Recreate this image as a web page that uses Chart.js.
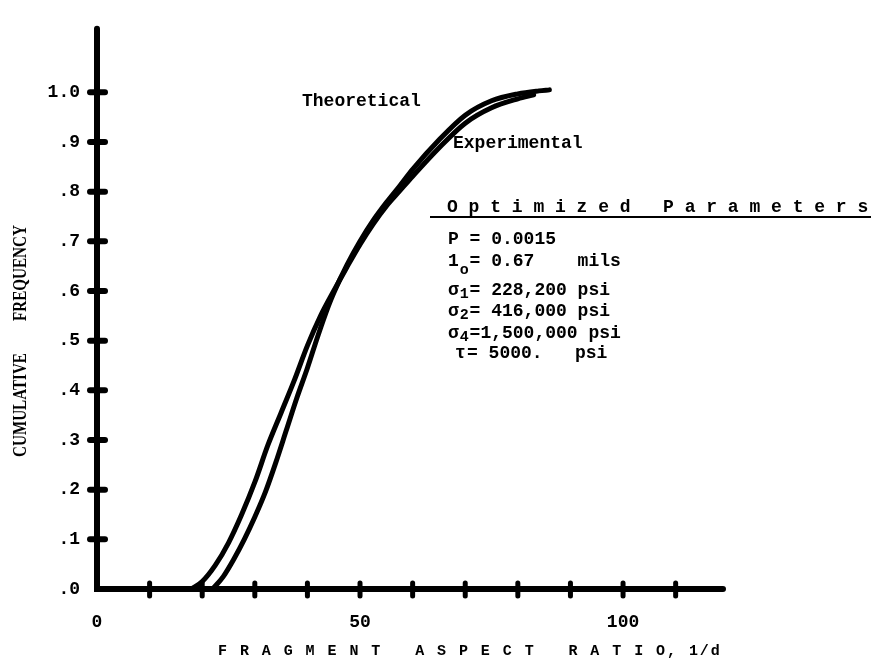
<!DOCTYPE html>
<html><head><meta charset="utf-8">
<script src="https://cdn.jsdelivr.net/npm/chart.js@4.4.0/dist/chart.umd.min.js"></script>
<style>html,body{margin:0;padding:0;background:#fff;} #wrap{width:871px;height:666px;position:relative;}</style>
</head><body><div id="wrap"><canvas id="c" width="871" height="666"></canvas></div>
<script>
// ---- data ----
const theoreticalX = [18, 20, 22.5, 25, 27.5, 30, 32.5, 35, 37.5, 40, 42.5, 45, 47.5, 50, 52.5, 55, 57.5, 60, 65, 70, 75, 80, 83];
const theoreticalY = [0, 0.015, 0.048, 0.093, 0.15, 0.215, 0.29, 0.355, 0.42, 0.49, 0.55, 0.60, 0.648, 0.694, 0.735, 0.771, 0.801, 0.831, 0.888, 0.938, 0.969, 0.987, 0.995];
const experimentalX = [22, 24, 26, 28, 30, 32, 34, 36, 38, 40, 42, 44, 45, 47.5, 50, 52.5, 55, 57.5, 60, 65, 70, 75, 80, 84, 86];
const experimentalY = [0, 0.025, 0.06, 0.10, 0.145, 0.195, 0.255, 0.32, 0.385, 0.445, 0.51, 0.57, 0.596, 0.652, 0.70, 0.742, 0.778, 0.811, 0.845, 0.904, 0.954, 0.983, 0.997, 1.003, 1.005];
const xTickValues = [10, 20, 30, 40, 50, 60, 70, 80, 90, 100, 110];
const xLabelValues = [0, 50, 100];
const yTickValues = [0, 0.1, 0.2, 0.3, 0.4, 0.5, 0.6, 0.7, 0.8, 0.9, 1.0];
const yTickLabels = ['.0', '.1', '.2', '.3', '.4', '.5', '.6', '.7', '.8', '.9', '1.0'];
const seriesNames = ['Theoretical', 'Experimental'];
const xTitle = 'F R A G M E N T   A S P E C T   R A T I O, 1/d';
const yTitleWords = ['CUMULATIVE', 'FREQUENCY'];
const paramHeading = 'O p t i m i z e d   P a r a m e t e r s';
const paramRows = [
  ['P', '', ' = 0.0015'],
  ['1', 'o', '= 0.67    mils'],
  ['σ', '1', '= 228,200 psi'],
  ['σ', '2', '= 416,000 psi'],
  ['σ', '4', '=1,500,000 psi'],
  ['τ', '', '= 5000.   psi']
];

const toPoints = (xs, ys) => xs.map((x, i) => ({x: x, y: ys[i]}));
const MONO = '"Liberation Mono", "DejaVu Sans Mono", monospace';

const decor = {
  id: 'decor',
  beforeDatasetsDraw(chart) {
    const ctx = chart.ctx, xs = chart.scales.x, ys = chart.scales.y;
    const x0 = xs.getPixelForValue(0), y0 = ys.getPixelForValue(0);
    ctx.save();
    ctx.strokeStyle = '#000';
    ctx.lineCap = 'round';
    ctx.lineWidth = 6;
    ctx.beginPath();
    ctx.moveTo(x0, ys.top + 1); ctx.lineTo(x0, y0);
    ctx.lineTo(xs.right, y0);
    ctx.stroke();
    ctx.lineWidth = 6;
    yTickValues.forEach(v => {
      if (v === 0) return;
      const py = ys.getPixelForValue(v);
      ctx.beginPath(); ctx.moveTo(x0 - 7, py); ctx.lineTo(x0 + 8, py); ctx.stroke();
    });
    ctx.lineWidth = 5;
    xTickValues.forEach(v => {
      const px = xs.getPixelForValue(v);
      ctx.beginPath(); ctx.moveTo(px, y0 - 6); ctx.lineTo(px, y0 + 7); ctx.stroke();
    });
    ctx.restore();
  },
  afterDraw(chart) {
    const ctx = chart.ctx;
    ctx.save();
    ctx.fillStyle = '#000';
    ctx.textBaseline = 'middle';
    ctx.textAlign = 'left';
    ctx.font = 'bold 18px ' + MONO;
    ctx.fillText(seriesNames[0], 302, 101);
    ctx.fillText(seriesNames[1], 453, 143);
    // parameters block
    ctx.fillText(paramHeading, 447, 207);
    ctx.fillRect(430, 216, 441, 2);
    const rowsY = [239, 261, 290, 311, 333, 353];
    const cw = 10.8, px0 = 448;
    paramRows.forEach((r, i) => {
      const y = rowsY[i];
      ctx.font = 'bold 18px ' + MONO;
      if (r[0] === 'τ') {
        ctx.fillText(r[0], px0 + 7, y);
        ctx.fillText(r[2], px0 + 19, y);
        return;
      }
      ctx.fillText(r[0], px0, y);
      if (r[1]) {
        ctx.font = 'bold 15px ' + MONO;
        ctx.fillText(r[1], px0 + cw + 1, y + (r[1] === 'o' ? 9 : 4));
        ctx.font = 'bold 18px ' + MONO;
        ctx.fillText(r[2], px0 + 2 * cw, y);
      } else {
        ctx.fillText(r[2], px0 + cw, y);
      }
    });
    // x axis title
    ctx.font = 'bold 15px ' + MONO;
    if ('letterSpacing' in ctx) ctx.letterSpacing = '1.95px';
    ctx.fillText(xTitle, 218, 651);
    if ('letterSpacing' in ctx) ctx.letterSpacing = '0px';
    // y axis title (rotated)
    ctx.font = 'bold 18px "Liberation Serif", "DejaVu Serif", serif';
    ctx.textAlign = 'center';
    const drawRot = (t, cx, cy) => {
      ctx.save();
      ctx.translate(cx, cy);
      ctx.rotate(-Math.PI / 2);
      ctx.scale(0.84, 1);
      ctx.fillText(t, 0, 0);
      ctx.restore();
    };
    drawRot(yTitleWords[0], 21, 405);
    drawRot(yTitleWords[1], 21, 273);
    ctx.restore();
  }
};

new Chart(document.getElementById('c'), {
  type: 'line',
  data: {
    datasets: [
      {label: seriesNames[0], data: toPoints(theoreticalX, theoreticalY)},
      {label: seriesNames[1], data: toPoints(experimentalX, experimentalY)}
    ]
  },
  options: {
    responsive: false,
    animation: false,
    events: [],
    layout: {padding: {left: 0, right: 148, top: 13, bottom: 0}},
    elements: {
      line: {borderColor: '#000', borderWidth: 5, cubicInterpolationMode: 'monotone', fill: false, borderCapStyle: 'round', borderJoinStyle: 'round'},
      point: {radius: 0}
    },
    plugins: {legend: {display: false}, tooltip: {enabled: false}, title: {display: false}},
    scales: {
      x: {
        type: 'linear', min: 0, max: 119, position: 'bottom',
        afterBuildTicks: s => { s.ticks = xLabelValues.map(v => ({value: v})); },
        afterFit: s => { s.height = 77; },
        grid: {display: false, drawTicks: false},
        border: {display: false},
        ticks: {color: '#000', padding: 23, maxRotation: 0, font: {family: MONO, size: 18, weight: 'bold'}, callback: v => String(v)}
      },
      y: {
        type: 'linear', min: 0, max: 1.13,
        afterBuildTicks: s => { s.ticks = yTickValues.map(v => ({value: v})); },
        afterFit: s => { s.width = 97; },
        grid: {display: false, drawTicks: false},
        border: {display: false},
        ticks: {color: '#000', padding: 17, font: {family: MONO, size: 18, weight: 'bold'},
          callback: (v) => { const i = yTickValues.findIndex(t => Math.abs(t - v) < 1e-9); return i >= 0 ? yTickLabels[i] : ''; }}
      }
    }
  },
  plugins: [decor]
});
</script>
</body></html>
